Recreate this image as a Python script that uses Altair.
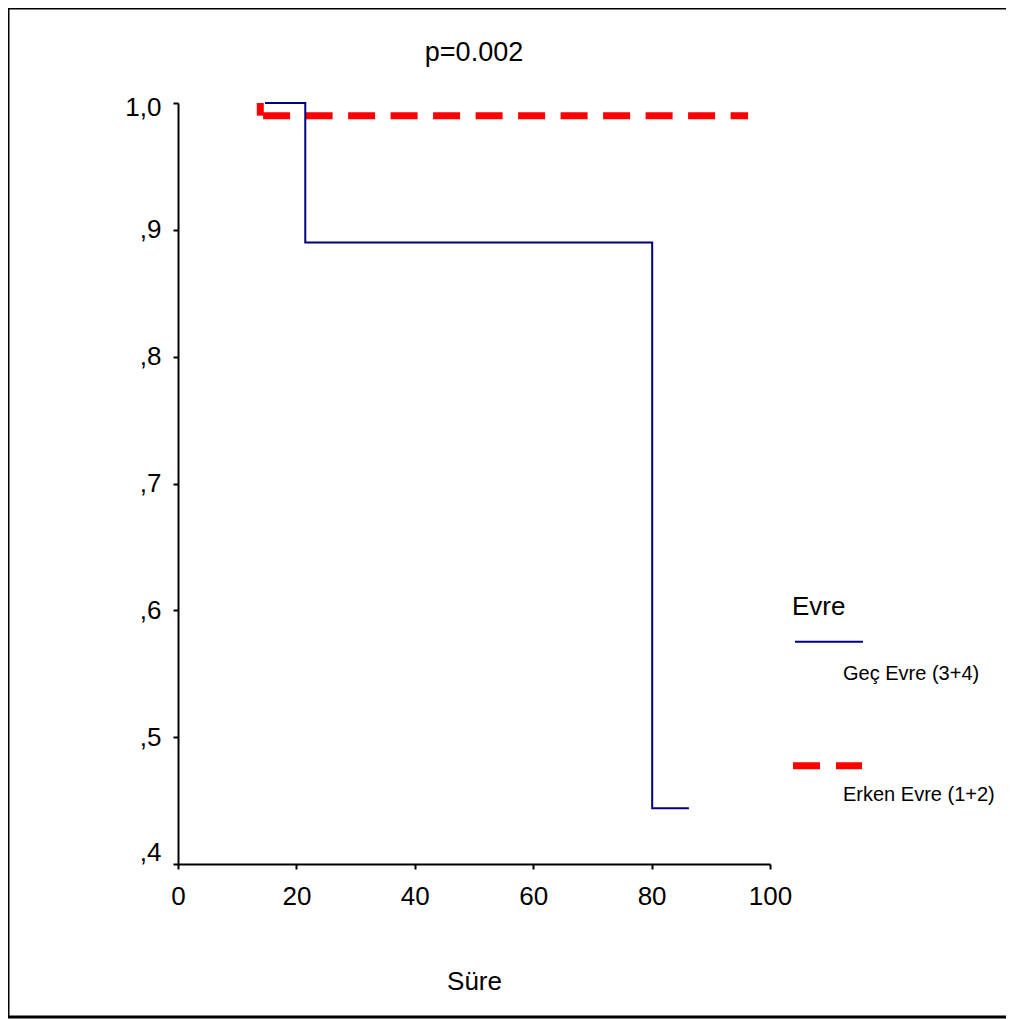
import altair as alt
import pandas as pd

# ---- data ----
gec_time = [14.7, 21.5, 80.1, 86.3]
gec_surv = [1.0, 0.89, 0.444, 0.444]
erken_time = [13.9, 13.9, 96.3]
erken_surv = [1.0, 0.99, 0.99]
x_ticks = [0, 20, 40, 60, 80, 100]
y_ticks = [0.4, 0.5, 0.6, 0.7, 0.8, 0.9, 1.0]
series_names = ["Geç Evre (3+4)", "Erken Evre (1+2)"]
legend_title = "Evre"
x_title = "Süre"
chart_title = "p=0.002"

FONT = "Liberation Sans"
BLUE = "#000080"
RED = "#ff0000"

gec = pd.DataFrame({"t": gec_time, "s": gec_surv, "i": list(range(len(gec_time)))})
erken = pd.DataFrame({"t": erken_time, "s": erken_surv, "i": list(range(len(erken_time)))})
erken_start = erken.iloc[:2]

x_scale = alt.Scale(domain=[0, 100], nice=False, zero=False)
y_scale = alt.Scale(domain=[0.4, 1.0], nice=False, zero=False)

x_axis = alt.Axis(values=x_ticks, title=x_title, grid=False, tickSize=5, tickWidth=2,
                  domainWidth=2, labelPadding=14, titlePadding=59, labelFontSize=26,
                  labelFlush=False,
                  titleFontSize=26, titleFontWeight="normal", labelFont=FONT, titleFont=FONT,
                  labelColor="black", titleColor="black", domainColor="black", tickColor="black")
y_axis = alt.Axis(values=y_ticks, title=None, grid=False, tickSize=5, tickWidth=2,
                  domainWidth=2, labelPadding=12, labelFontSize=26, labelFont=FONT,
                  labelFlush=False,
                  labelOffset={"condition": [{"test": "datum.value >= 0.999", "value": 4},
                                             {"test": "datum.value <= 0.401", "value": -12}],
                               "value": 0},
                  labelColor="black", domainColor="black", tickColor="black",
                  labelExpr="datum.value >= 0.999 ? '1,0' : replace(format(datum.value, '.1f'), '0.', ',')")

red_line = alt.Chart(erken).mark_line(interpolate="step-after", color=RED, strokeWidth=7,
                                      strokeDash=[27, 15.5], strokeDashOffset=27).encode(
    x=alt.X("t:Q", scale=x_scale, axis=x_axis),
    y=alt.Y("s:Q", scale=y_scale, axis=y_axis),
    order="i:Q",
)
red_start = alt.Chart(erken_start).mark_line(color=RED, strokeWidth=7).encode(
    x=alt.X("t:Q", scale=x_scale, axis=x_axis),
    y=alt.Y("s:Q", scale=y_scale, axis=y_axis),
    order="i:Q",
)
blue_line = alt.Chart(gec).mark_line(interpolate="step-after", color=BLUE, strokeWidth=2).encode(
    x=alt.X("t:Q", scale=x_scale, axis=x_axis),
    y=alt.Y("s:Q", scale=y_scale, axis=y_axis),
    order="i:Q",
)

one = alt.Data(values=[{"a": 1}])

title_mark = alt.Chart(one).mark_text(align="center", baseline="middle", font=FONT, fontSize=27,
                                      color="black").encode(
    x=alt.value(296), y=alt.value(-50), text=alt.value(chart_title))
leg_title = alt.Chart(one).mark_text(align="left", baseline="middle", font=FONT, fontSize=26,
                                     color="black").encode(
    x=alt.value(614), y=alt.value(504), text=alt.value(legend_title))
leg_blue = alt.Chart(one).mark_rule(color=BLUE, strokeWidth=2).encode(
    x=alt.value(617), x2=alt.value(685), y=alt.value(538.7))
leg_lab1 = alt.Chart(one).mark_text(align="left", baseline="middle", font=FONT, fontSize=20,
                                    color="black").encode(
    x=alt.value(665), y=alt.value(571), text=alt.value(series_names[0]))
leg_red = alt.Chart(one).mark_rule(color=RED, strokeWidth=7, strokeDash=[27, 16]).encode(
    x=alt.value(615), x2=alt.value(684), y=alt.value(662.7))
leg_lab2 = alt.Chart(one).mark_text(align="left", baseline="middle", font=FONT, fontSize=20,
                                    color="black").encode(
    x=alt.value(665), y=alt.value(692), text=alt.value(series_names[1]))

# outer frame (decoration); its right side lies outside the picture in the reference
frame = alt.Chart(one).mark_rect(fill=None, fillOpacity=0, stroke="black", strokeWidth=3).encode(
    x=alt.value(-170), x2=alt.value(840), y=alt.value(-95), y2=alt.value(914))

chart = alt.layer(
    red_start, red_line, blue_line, title_mark, leg_title, leg_blue, leg_lab1, leg_red, leg_lab2,
    frame,
).properties(
    width=592,
    height=761,
    autosize=alt.AutoSizeParams(type="none"),
    padding={"left": 170, "top": 95, "right": 236, "bottom": 155},
    background="white",
).configure_view(stroke=None)

chart.save("out.html", embed_options={"renderer": "svg", "actions": False})
